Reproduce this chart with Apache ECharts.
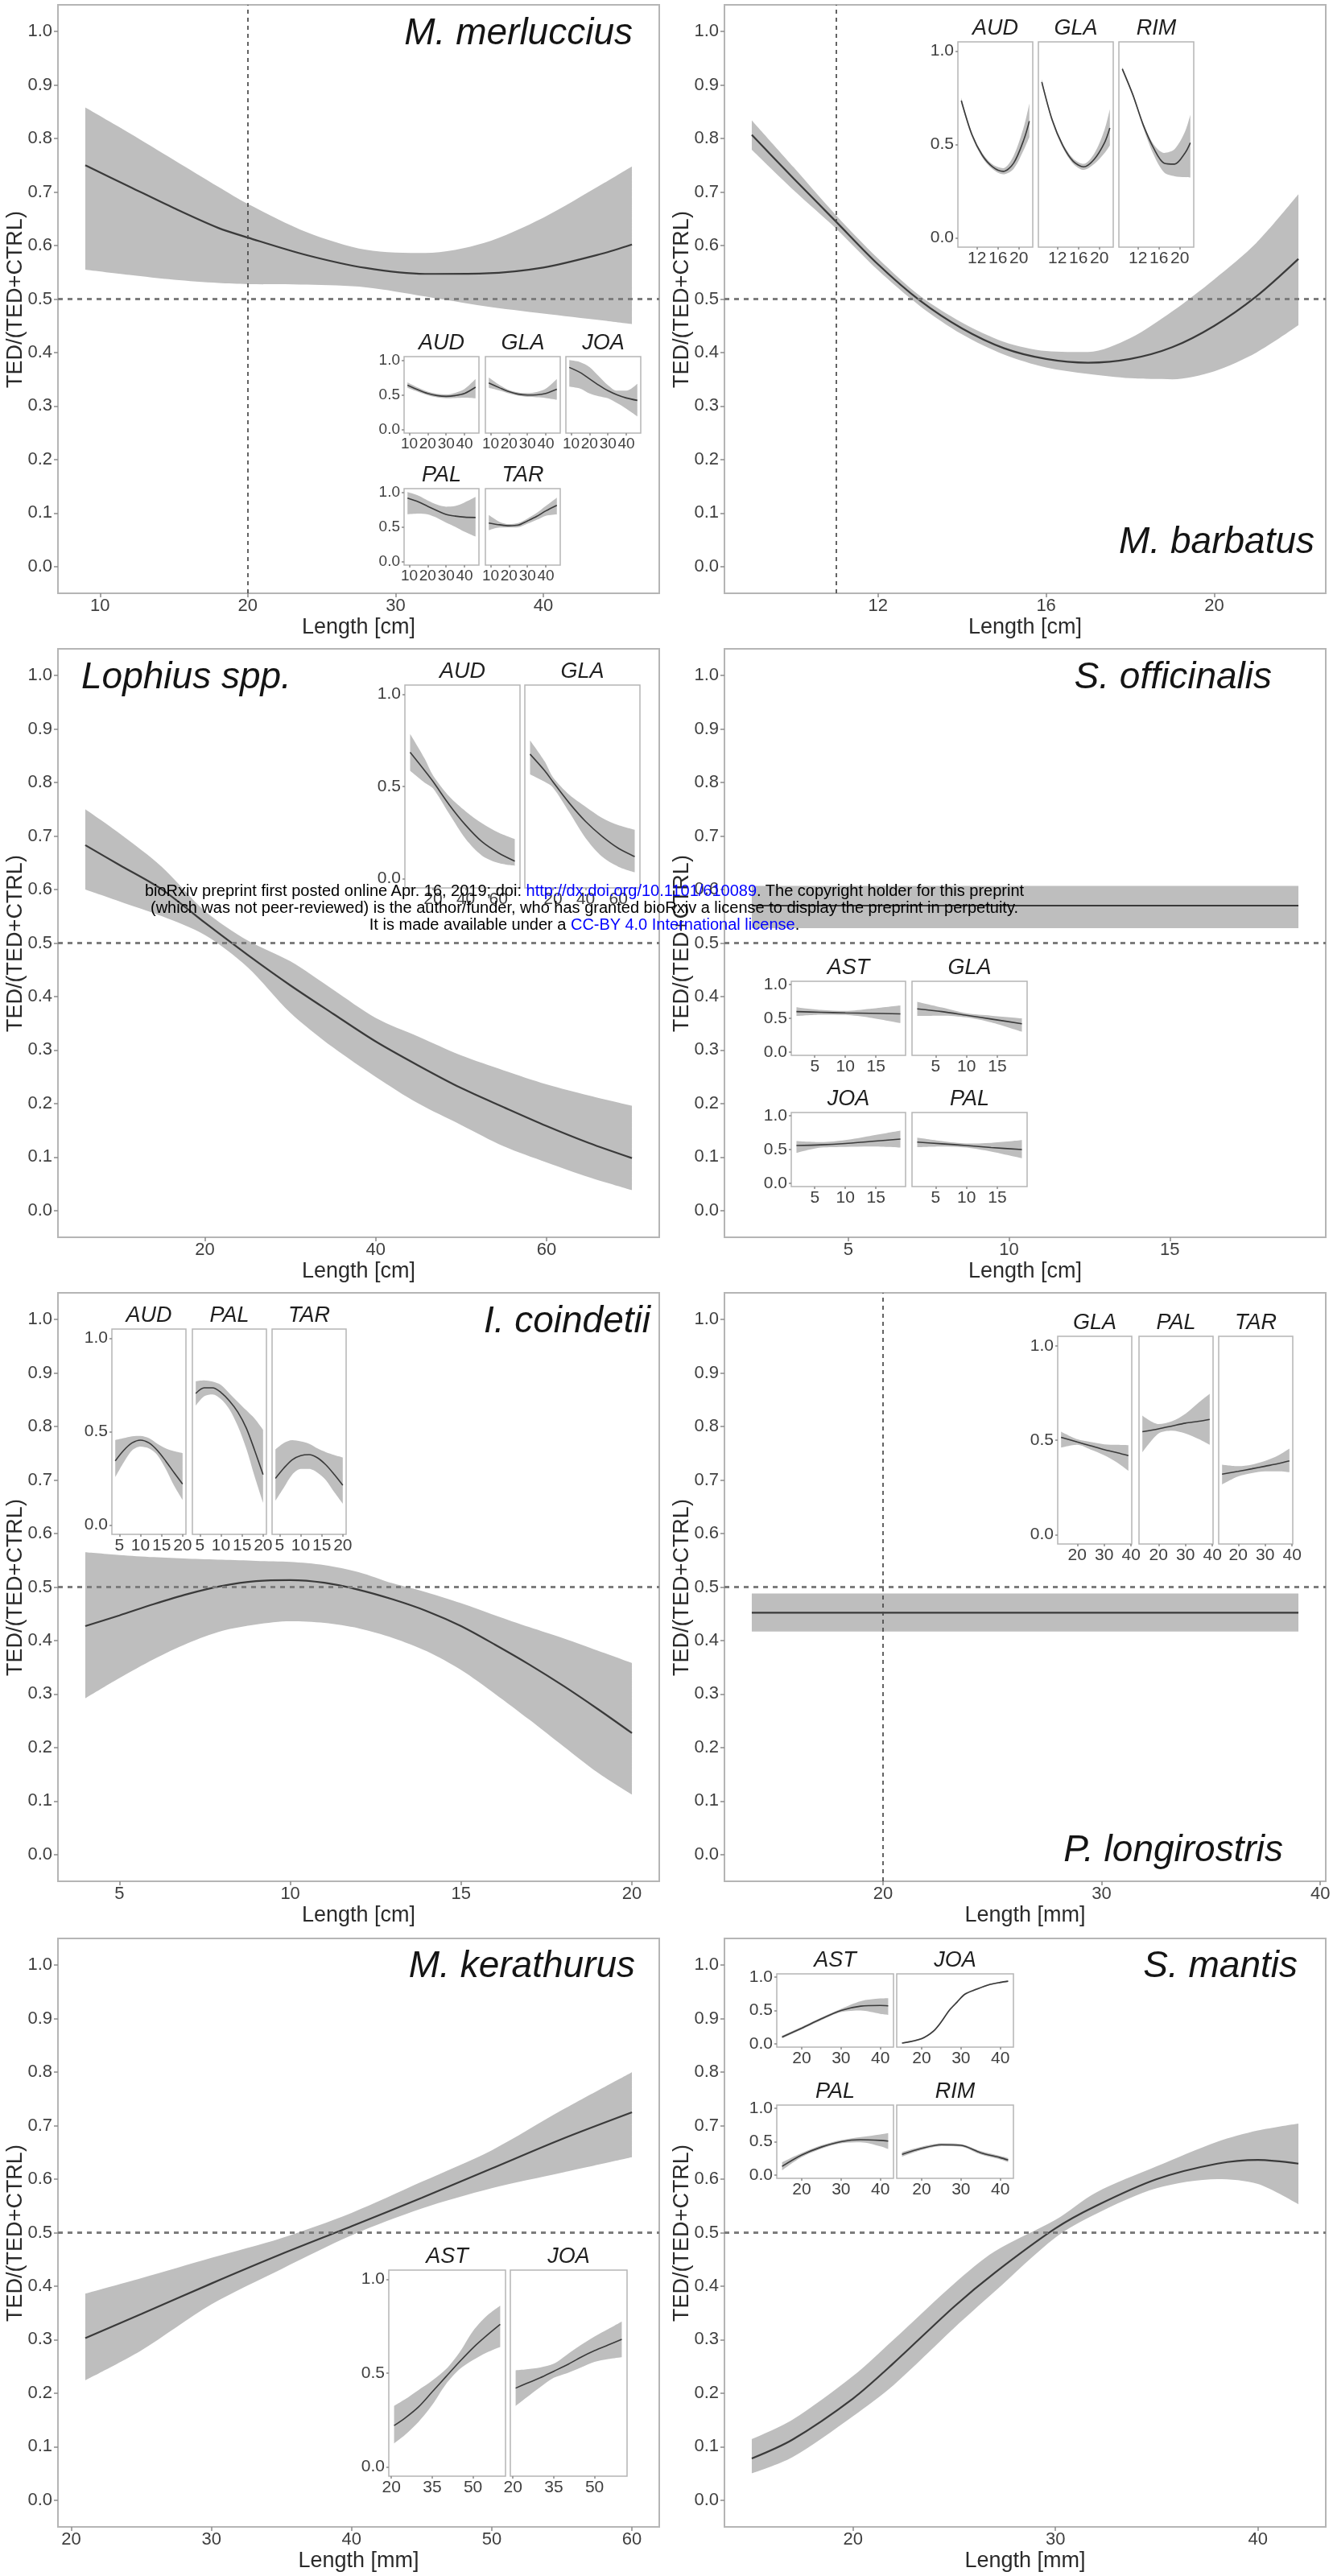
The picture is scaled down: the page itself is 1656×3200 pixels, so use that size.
<!DOCTYPE html>
<html>
<head>
<meta charset="utf-8">
<title>TED/(TED+CTRL) by length</title>
<script src="https://cdn.jsdelivr.net/npm/echarts@6.0.0/dist/echarts.min.js"></script>
<style>
  html, body { margin: 0; padding: 0; background: #fff; }
  #chart { width: 1656px; height: 3200px; }
  .stamp {
    position: absolute; left: 0; width: 1452px; top: 1096px;
    text-align: center; color: #000;
    font: 20px/21px "Liberation Sans", Arial, sans-serif;
  }
  .stamp span { color: #0000ff; }
</style>
</head>
<body>
<div id="chart"></div>
<div class="stamp">
  bioRxiv preprint first posted online Apr. 16, 2019; doi: <span>http://dx.doi.org/10.1101/610089</span>. The copyright holder for this preprint<br>
  (which was not peer-reviewed) is the author/funder, who has granted bioRxiv a license to display the preprint in perpetuity.<br>
  It is made available under a <span>CC-BY 4.0 International license</span>.
</div>
<script>
// ---------- data ----------
// M. merluccius, length in cm
const merX   = [9, 12, 15, 18, 20, 24, 28, 32, 36, 40, 44, 46];
const merFit = [0.750, 0.710, 0.670, 0.633, 0.615, 0.582, 0.558, 0.547, 0.548, 0.559, 0.585, 0.602];
const merUp  = [0.858, 0.810, 0.760, 0.710, 0.678, 0.625, 0.592, 0.586, 0.605, 0.652, 0.715, 0.748];
const merLo  = [0.555, 0.545, 0.536, 0.530, 0.528, 0.527, 0.522, 0.505, 0.487, 0.473, 0.460, 0.453];
const merInX = [9, 15, 20, 25, 30, 35, 40, 46];
const merAUDFit = [0.64, 0.57, 0.52, 0.49, 0.478, 0.49, 0.52, 0.61];
const merAUDUp  = [0.68, 0.60, 0.545, 0.515, 0.505, 0.53, 0.585, 0.73];
const merAUDLo  = [0.60, 0.54, 0.495, 0.465, 0.452, 0.455, 0.46, 0.45];
const merGLAFit = [0.67, 0.60, 0.545, 0.51, 0.497, 0.50, 0.52, 0.58];
const merGLAUp  = [0.75, 0.64, 0.57, 0.535, 0.525, 0.54, 0.59, 0.73];
const merGLALo  = [0.60, 0.56, 0.52, 0.487, 0.47, 0.465, 0.455, 0.43];
const merJOAFit = [0.895, 0.82, 0.73, 0.64, 0.56, 0.50, 0.455, 0.42];
const merJOAUp  = [1.0, 0.97, 0.90, 0.77, 0.64, 0.56, 0.56, 0.66];
const merJOALo  = [0.62, 0.59, 0.52, 0.48, 0.45, 0.38, 0.30, 0.19];
const merPALFit = [0.915, 0.86, 0.795, 0.735, 0.68, 0.655, 0.64, 0.635];
const merPALUp  = [1.0, 0.95, 0.88, 0.82, 0.79, 0.80, 0.85, 0.93];
const merPALLo  = [0.68, 0.69, 0.68, 0.63, 0.56, 0.50, 0.43, 0.36];
const merTARFit = [0.556, 0.53, 0.516, 0.525, 0.585, 0.65, 0.73, 0.81];
const merTARUp  = [0.67, 0.57, 0.54, 0.555, 0.62, 0.70, 0.80, 0.92];
const merTARLo  = [0.45, 0.49, 0.49, 0.495, 0.545, 0.60, 0.66, 0.68];

// M. barbatus, cm
const barX   = [9, 10, 11, 12, 13, 14, 15, 16, 17, 18, 19, 20, 21, 22];
const barFit = [0.807, 0.725, 0.645, 0.565, 0.497, 0.445, 0.408, 0.388, 0.381, 0.388, 0.41, 0.45, 0.505, 0.575];
const barUp  = [0.834, 0.746, 0.657, 0.576, 0.506, 0.456, 0.42, 0.403, 0.401, 0.427, 0.477, 0.537, 0.605, 0.696];
const barLo  = [0.779, 0.703, 0.632, 0.554, 0.487, 0.434, 0.396, 0.372, 0.36, 0.352, 0.35, 0.365, 0.40, 0.451];
const barInX = [9, 11, 13, 15, 17, 19, 21, 22];
const barAUDFit = [0.735, 0.555, 0.443, 0.38, 0.356, 0.40, 0.53, 0.625];
const barAUDUp  = [0.75, 0.567, 0.455, 0.393, 0.373, 0.44, 0.60, 0.72];
const barAUDLo  = [0.72, 0.543, 0.431, 0.367, 0.34, 0.37, 0.475, 0.54];
const barGLAFit = [0.835, 0.63, 0.495, 0.41, 0.38, 0.42, 0.51, 0.588];
const barGLAUp  = [0.85, 0.642, 0.507, 0.425, 0.396, 0.45, 0.58, 0.69];
const barGLALo  = [0.82, 0.618, 0.483, 0.397, 0.364, 0.395, 0.455, 0.495];
const barRIMFit = [0.905, 0.768, 0.605, 0.48, 0.40, 0.395, 0.455, 0.509];
const barRIMUp  = [0.915, 0.778, 0.615, 0.50, 0.455, 0.475, 0.57, 0.66];
const barRIMLo  = [0.895, 0.758, 0.59, 0.445, 0.35, 0.33, 0.325, 0.323];

// Lophius spp., cm
const lopX   = [6, 10, 15, 20, 25, 30, 35, 40, 45, 50, 55, 60, 65, 70];
const lopFit = [0.683, 0.646, 0.600, 0.538, 0.478, 0.421, 0.368, 0.316, 0.271, 0.229, 0.193, 0.158, 0.126, 0.098];
const lopUp  = [0.750, 0.705, 0.642, 0.560, 0.505, 0.466, 0.413, 0.360, 0.325, 0.290, 0.262, 0.236, 0.215, 0.196];
const lopLo  = [0.600, 0.578, 0.550, 0.515, 0.455, 0.370, 0.305, 0.250, 0.200, 0.160, 0.120, 0.090, 0.062, 0.038];
const lopInX = [6, 15, 20, 30, 40, 50, 60, 70];
const lopAUDFit = [0.685, 0.585, 0.527, 0.40, 0.29, 0.20, 0.14, 0.095];
const lopAUDUp  = [0.785, 0.65, 0.56, 0.445, 0.365, 0.30, 0.25, 0.215];
const lopAUDLo  = [0.585, 0.52, 0.49, 0.35, 0.215, 0.125, 0.085, 0.07];
const lopGLAFit = [0.675, 0.585, 0.525, 0.41, 0.31, 0.23, 0.165, 0.12];
const lopGLAUp  = [0.75, 0.635, 0.55, 0.455, 0.39, 0.33, 0.29, 0.265];
const lopGLALo  = [0.565, 0.525, 0.495, 0.36, 0.22, 0.12, 0.065, 0.035];

// S. officinalis, cm
const offX   = [2, 19];
const offFit = [0.570, 0.570];
const offUp  = [0.607, 0.607];
const offLo  = [0.528, 0.528];
const offInX = [2, 6, 10, 14, 19];
const offASTFit = [0.60, 0.59, 0.58, 0.575, 0.565];
const offASTUp  = [0.665, 0.625, 0.61, 0.64, 0.69];
const offASTLo  = [0.535, 0.555, 0.55, 0.51, 0.43];
const offGLAFit = [0.64, 0.60, 0.545, 0.49, 0.42];
const offGLAUp  = [0.745, 0.66, 0.575, 0.54, 0.50];
const offGLALo  = [0.535, 0.54, 0.515, 0.44, 0.30];
const offJOAFit = [0.56, 0.57, 0.59, 0.62, 0.655];
const offJOAUp  = [0.625, 0.61, 0.64, 0.70, 0.78];
const offJOALo  = [0.45, 0.53, 0.54, 0.545, 0.53];
const offPALFit = [0.61, 0.585, 0.56, 0.53, 0.50];
const offPALUp  = [0.675, 0.625, 0.59, 0.60, 0.64];
const offPALLo  = [0.535, 0.545, 0.53, 0.47, 0.37];

// I. coindetii, cm
const coiX   = [4, 5, 6, 7, 8, 9, 10, 11, 12, 13, 14, 15, 16, 17, 18, 19, 20];
const coiFit = [0.427, 0.447, 0.468, 0.487, 0.502, 0.511, 0.513, 0.508, 0.495, 0.477, 0.455, 0.427, 0.392, 0.355, 0.315, 0.272, 0.227];
const coiUp  = [0.565, 0.560, 0.556, 0.553, 0.551, 0.549, 0.547, 0.541, 0.528, 0.507, 0.490, 0.470, 0.447, 0.425, 0.404, 0.381, 0.358];
const coiLo  = [0.292, 0.330, 0.365, 0.395, 0.418, 0.430, 0.436, 0.433, 0.423, 0.405, 0.380, 0.345, 0.300, 0.252, 0.202, 0.153, 0.112];
const coiInX = [4, 6, 8, 10, 12, 14, 16, 18, 20];
const coiAUDFit = [0.344, 0.40, 0.44, 0.455, 0.44, 0.40, 0.343, 0.28, 0.22];
const coiAUDUp  = [0.455, 0.465, 0.475, 0.477, 0.465, 0.435, 0.41, 0.395, 0.385];
const coiAUDLo  = [0.256, 0.335, 0.40, 0.42, 0.41, 0.375, 0.30, 0.21, 0.135];
const coiPALFit = [0.705, 0.735, 0.735, 0.71, 0.665, 0.605, 0.52, 0.40, 0.27];
const coiPALUp  = [0.77, 0.775, 0.768, 0.75, 0.705, 0.66, 0.615, 0.57, 0.51];
const coiPALLo  = [0.64, 0.69, 0.70, 0.675, 0.62, 0.53, 0.41, 0.26, 0.12];
const coiTARFit = [0.25, 0.305, 0.35, 0.372, 0.377, 0.36, 0.322, 0.27, 0.213];
const coiTARUp  = [0.405, 0.44, 0.455, 0.448, 0.435, 0.41, 0.39, 0.375, 0.362];
const coiTARLo  = [0.13, 0.20, 0.27, 0.30, 0.30, 0.28, 0.24, 0.175, 0.114];

// P. longirostris, mm
const lonX   = [14, 39];
const lonFit = [0.452, 0.452];
const lonUp  = [0.488, 0.488];
const lonLo  = [0.417, 0.417];
const lonInX = [14, 20, 25, 30, 35, 39];
const lonGLAFit = [0.515, 0.49, 0.47, 0.45, 0.433, 0.418];
const lonGLAUp  = [0.545, 0.505, 0.49, 0.478, 0.475, 0.473];
const lonGLALo  = [0.46, 0.475, 0.45, 0.42, 0.38, 0.338];
const lonPALFit = [0.545, 0.56, 0.575, 0.59, 0.60, 0.61];
const lonPALUp  = [0.63, 0.585, 0.60, 0.64, 0.70, 0.745];
const lonPALLo  = [0.435, 0.535, 0.55, 0.535, 0.505, 0.475];
const lonTARFit = [0.32, 0.335, 0.348, 0.362, 0.376, 0.39];
const lonTARUp  = [0.37, 0.362, 0.37, 0.39, 0.42, 0.455];
const lonTARLo  = [0.265, 0.308, 0.325, 0.335, 0.335, 0.33];

// M. kerathurus, mm
const kerX   = [21, 25, 30, 35, 40, 45, 50, 55, 60];
const kerFit = [0.303, 0.348, 0.405, 0.46, 0.512, 0.565, 0.62, 0.675, 0.725];
const kerUp  = [0.386, 0.415, 0.453, 0.49, 0.537, 0.595, 0.654, 0.729, 0.80];
const kerLo  = [0.224, 0.28, 0.366, 0.432, 0.495, 0.545, 0.583, 0.612, 0.641];
const kerInX = [21, 25, 30, 35, 40, 45, 50, 55, 60];
const kerASTFit = [0.22, 0.26, 0.32, 0.40, 0.48, 0.56, 0.635, 0.70, 0.76];
const kerASTUp  = [0.325, 0.36, 0.41, 0.46, 0.52, 0.61, 0.725, 0.805, 0.86];
const kerASTLo  = [0.125, 0.17, 0.24, 0.33, 0.44, 0.52, 0.57, 0.61, 0.64];
const kerJOAFit = [0.42, 0.445, 0.475, 0.51, 0.545, 0.585, 0.62, 0.65, 0.68];
const kerJOAUp  = [0.515, 0.52, 0.53, 0.55, 0.60, 0.65, 0.695, 0.735, 0.775];
const kerJOALo  = [0.325, 0.37, 0.425, 0.475, 0.50, 0.53, 0.56, 0.575, 0.585];

// S. mantis, mm
const manX   = [15, 17, 20, 22, 25, 27, 30, 32, 35, 38, 40, 42];
const manFit = [0.078, 0.113, 0.19, 0.256, 0.362, 0.425, 0.508, 0.55, 0.60, 0.629, 0.636, 0.629];
const manUp  = [0.114, 0.15, 0.232, 0.30, 0.405, 0.465, 0.524, 0.575, 0.624, 0.67, 0.691, 0.704];
const manLo  = [0.05, 0.08, 0.157, 0.215, 0.322, 0.39, 0.491, 0.535, 0.583, 0.60, 0.591, 0.553];
const manInX = [15, 20, 25, 30, 35, 40, 42];
const manASTFit = [0.10, 0.235, 0.375, 0.50, 0.565, 0.575, 0.57];
const manASTUp  = [0.12, 0.255, 0.395, 0.525, 0.64, 0.68, 0.685];
const manASTLo  = [0.08, 0.215, 0.355, 0.475, 0.50, 0.45, 0.435];
const manJOAX   = [15, 20, 23, 25, 27, 29, 31, 34, 37, 40, 42];
const manJOAFit = [0.01, 0.078, 0.19, 0.33, 0.50, 0.625, 0.745, 0.82, 0.885, 0.922, 0.94];
const manJOAUp  = [0.02, 0.09, 0.205, 0.345, 0.515, 0.64, 0.757, 0.832, 0.895, 0.932, 0.95];
const manJOALo  = [0.0, 0.066, 0.175, 0.315, 0.485, 0.61, 0.733, 0.808, 0.875, 0.912, 0.93];
const manPALFit = [0.13, 0.30, 0.42, 0.50, 0.53, 0.52, 0.51];
const manPALUp  = [0.19, 0.33, 0.445, 0.525, 0.57, 0.61, 0.63];
const manPALLo  = [0.07, 0.27, 0.395, 0.475, 0.49, 0.43, 0.39];
const manRIMFit = [0.31, 0.40, 0.455, 0.445, 0.335, 0.26, 0.225];
const manRIMUp  = [0.345, 0.425, 0.475, 0.465, 0.36, 0.285, 0.255];
const manRIMLo  = [0.275, 0.375, 0.435, 0.425, 0.31, 0.235, 0.195];

// tick labels
const yTicks = [0, 0.1, 0.2, 0.3, 0.4, 0.5, 0.6, 0.7, 0.8, 0.9, 1.0];
const yInsetTicks = [0, 0.5, 1.0];

// ---------- layout / styling ----------
const FONT = '"Liberation Sans", Arial, Helvetica, sans-serif';
const BAND = '#bebebe';
const FIT = '#3a3a3a';
const FRAME = '#b5b5b5';
const TICK_TXT = '#3f3f3f';
const COL_LEFT = [72, 900];
const ROW_TOP = [6, 806, 1606, 2408];
const FW = 747, FH = 731;

const option = {
  animation: false,
  backgroundColor: '#fff',
  grid: [], xAxis: [], yAxis: [], series: [], graphic: []
};

function addAxes(rect, xr, xticks, s) {
  const gi = option.grid.length;
  option.grid.push({
    left: rect[0], top: rect[1], width: rect[2], height: rect[3],
    show: true, backgroundColor: '#fff', borderColor: FRAME, borderWidth: s.border,
    containLabel: false, outerBoundsMode: 'none', z: s.z
  });
  option.xAxis.push({
    type: 'value', gridIndex: gi, min: xr[0], max: xr[1], z: s.z,
    axisLine: { show: false, onZero: false }, splitLine: { show: false },
    axisTick: { show: true, length: s.tick, customValues: xticks, lineStyle: { color: '#8a8a8a', width: 1.5 } },
    axisLabel: { customValues: xticks, fontSize: s.fs, color: TICK_TXT, fontFamily: FONT, margin: s.xMargin }
  });
  option.yAxis.push({
    type: 'value', gridIndex: gi, min: -0.05, max: 1.05, z: s.z,
    axisLine: { show: false, onZero: false }, splitLine: { show: false },
    axisTick: { show: s.yLabels, length: s.tick, customValues: s.yticks, lineStyle: { color: '#8a8a8a', width: 1.5 } },
    axisLabel: {
      show: s.yLabels, customValues: s.yticks, fontSize: s.fs, color: TICK_TXT, fontFamily: FONT,
      margin: s.margin, formatter: v => v.toFixed(1)
    }
  });
  return gi;
}

// band = invisible lower line + stacked (upper - lower) area, then the fitted line.
// Rows are [y, x] with encode so that the stacked dimension is y.
function addCurve(gi, xs, fit, up, lo, s, vline) {
  const key = 'band' + gi;
  const common = {
    type: 'line', xAxisIndex: gi, yAxisIndex: gi, symbol: 'none', smooth: 0.3,
    silent: true, z: s.z + 1, encode: { x: 1, y: 0 }
  };
  option.series.push(Object.assign({}, common, {
    data: xs.map((x, i) => [lo[i], x]), stack: key, lineStyle: { opacity: 0 }
  }));
  option.series.push(Object.assign({}, common, {
    data: xs.map((x, i) => [+(up[i] - lo[i]).toFixed(4), x]), stack: key,
    lineStyle: { opacity: 0 }, areaStyle: { color: BAND, opacity: 1 }
  }));
  const refs = [{ yAxis: 0.5, lineStyle: s.hRef }];
  if (vline != null) refs.push({ xAxis: vline, lineStyle: s.vRef });
  option.series.push(Object.assign({}, common, {
    data: xs.map((x, i) => [fit[i], x]), z: s.z + 2,
    lineStyle: { color: FIT, width: s.lw },
    markLine: { symbol: ['none', 'none'], silent: true, animation: false, label: { show: false }, data: refs }
  }));
}

function text(x, y, str, size, o) {
  o = o || {};
  const align = o.align || 'center';
  option.graphic.push({
    type: 'text', x: x, y: y, rotation: o.rot || 0, silent: true, z: 200,
    style: {
      text: str, fill: o.color || '#222',
      font: (o.italic ? 'italic ' : '') + size + 'px ' + FONT,
      align: align, textAlign: align, verticalAlign: 'middle', textVerticalAlign: 'middle'
    }
  });
}

const MAIN = {
  border: 2, tick: 5, fs: 22, margin: 7, xMargin: 5, yLabels: true, yticks: yTicks, z: 0, lw: 2.2,
  hRef: { color: '#7c7c7c', width: 3, type: [6, 6] },
  vRef: { color: '#4a4a4a', width: 1.7, type: [5, 5] }
};

function mainPanel(col, row, xr, xticks, xs, fit, up, lo, vline, xname, species) {
  const left = COL_LEFT[col], top = ROW_TOP[row];
  const gi = addAxes([left, top, FW, FH], xr, xticks, MAIN);
  addCurve(gi, xs, fit, up, lo, MAIN, vline);
  text(left + FW / 2, top + 774, xname, 27, { color: '#2a2a2a' });
  text(left - 52, top + 366, 'TED/(TED+CTRL)', 27, { rot: Math.PI / 2, color: '#2a2a2a' });
  text(species.x, species.y, species.name, 46, { italic: true, align: species.align, color: '#141414' });
}

function inset(rect, xr, xticks, xs, fit, up, lo, title, vline, yLabels, fs) {
  const s = {
    border: 1.5, tick: 3, fs: fs || 21, margin: 5, xMargin: 4, yLabels: yLabels, yticks: yInsetTicks, z: 10, lw: 1.6,
    hRef: { color: '#707070', width: 2.4, type: [4, 4] },
    vRef: { color: '#4a4a4a', width: 1.5, type: [3, 4] }
  };
  const gi = addAxes(rect, xr, xticks, s);
  addCurve(gi, xs, fit, up, lo, s, vline);
  text(rect[0] + rect[2] / 2, rect[1] - 17, title, 27, { italic: true, color: '#1e1e1e' });
}

// ---------- panels ----------
// M. merluccius
const merR = [7.15, 47.85], merT = [10, 20, 30, 40];
mainPanel(0, 0, merR, merT, merX, merFit, merUp, merLo, 20, 'Length [cm]',
  { name: 'M. merluccius', x: 786, y: 42, align: 'right' });
inset([502, 443, 93, 95], merR, merT, merInX, merAUDFit, merAUDUp, merAUDLo, 'AUD', 20, true, 19);
inset([603, 443, 93, 95], merR, merT, merInX, merGLAFit, merGLAUp, merGLALo, 'GLA', 20, false, 19);
inset([703, 443, 93, 95], merR, merT, merInX, merJOAFit, merJOAUp, merJOALo, 'JOA', 20, false, 19);
inset([502, 607, 93, 95], merR, merT, merInX, merPALFit, merPALUp, merPALLo, 'PAL', 20, true, 19);
inset([603, 607, 93, 95], merR, merT, merInX, merTARFit, merTARUp, merTARLo, 'TAR', 20, false, 19);

// M. barbatus
const barR = [8.35, 22.65], barT = [12, 16, 20];
mainPanel(1, 0, barR, barT, barX, barFit, barUp, barLo, 11, 'Length [cm]',
  { name: 'M. barbatus', x: 1633, y: 674, align: 'right' });
inset([1190, 52, 93, 255], barR, barT, barInX, barAUDFit, barAUDUp, barAUDLo, 'AUD', 11, true, 21);
inset([1290, 52, 93, 255], barR, barT, barInX, barGLAFit, barGLAUp, barGLALo, 'GLA', 11, false, 21);
inset([1390, 52, 93, 255], barR, barT, barInX, barRIMFit, barRIMUp, barRIMLo, 'RIM', 11, false, 21);

// Lophius spp.
const lopR = [2.8, 73.2], lopT = [20, 40, 60];
mainPanel(0, 1, lopR, lopT, lopX, lopFit, lopUp, lopLo, null, 'Length [cm]',
  { name: 'Lophius spp.', x: 101, y: 842, align: 'left' });
inset([503, 851, 143, 252], lopR, lopT, lopInX, lopAUDFit, lopAUDUp, lopAUDLo, 'AUD', null, true);
inset([652, 851, 143, 252], lopR, lopT, lopInX, lopGLAFit, lopGLAUp, lopGLALo, 'GLA', null, false);

// S. officinalis
const offR = [1.15, 19.85], offT = [5, 10, 15];
mainPanel(1, 1, offR, offT, offX, offFit, offUp, offLo, null, 'Length [cm]',
  { name: 'S. officinalis', x: 1580, y: 842, align: 'right' });
inset([983, 1219, 142, 92], offR, offT, offInX, offASTFit, offASTUp, offASTLo, 'AST', null, true);
inset([1133, 1219, 143, 92], offR, offT, offInX, offGLAFit, offGLAUp, offGLALo, 'GLA', null, false);
inset([983, 1382, 142, 92], offR, offT, offInX, offJOAFit, offJOAUp, offJOALo, 'JOA', null, true);
inset([1133, 1382, 143, 92], offR, offT, offInX, offPALFit, offPALUp, offPALLo, 'PAL', null, false);

// I. coindetii
const coiR = [3.2, 20.8], coiT = [5, 10, 15, 20];
mainPanel(0, 2, coiR, coiT, coiX, coiFit, coiUp, coiLo, null, 'Length [cm]',
  { name: 'I. coindetii', x: 808, y: 1642, align: 'right' });
inset([139, 1651, 92, 255], coiR, coiT, coiInX, coiAUDFit, coiAUDUp, coiAUDLo, 'AUD', null, true);
inset([239, 1651, 92, 255], coiR, coiT, coiInX, coiPALFit, coiPALUp, coiPALLo, 'PAL', null, false);
inset([338, 1651, 92, 255], coiR, coiT, coiInX, coiTARFit, coiTARUp, coiTARLo, 'TAR', null, false);

// P. longirostris
const lonR = [12.75, 40.25], lonT = [20, 30, 40];
mainPanel(1, 2, lonR, lonT, lonX, lonFit, lonUp, lonLo, 20, 'Length [mm]',
  { name: 'P. longirostris', x: 1594, y: 2299, align: 'right' });
inset([1314, 1660, 92, 258], lonR, lonT, lonInX, lonGLAFit, lonGLAUp, lonGLALo, 'GLA', 20, true);
inset([1415, 1660, 92, 258], lonR, lonT, lonInX, lonPALFit, lonPALUp, lonPALLo, 'PAL', 20, false);
inset([1514, 1660, 92, 258], lonR, lonT, lonInX, lonTARFit, lonTARUp, lonTARLo, 'TAR', 20, false);

// M. kerathurus
const kerR = [19.05, 61.95], kerT = [20, 30, 40, 50, 60], kerInT = [20, 35, 50];
mainPanel(0, 3, kerR, kerT, kerX, kerFit, kerUp, kerLo, null, 'Length [mm]',
  { name: 'M. kerathurus', x: 789, y: 2443, align: 'right' });
inset([483, 2820, 145, 256], kerR, kerInT, kerInX, kerASTFit, kerASTUp, kerASTLo, 'AST', null, true);
inset([634, 2820, 145, 256], kerR, kerInT, kerInX, kerJOAFit, kerJOAUp, kerJOALo, 'JOA', null, false);

// S. mantis
const manR = [13.65, 43.35], manT = [20, 30, 40];
mainPanel(1, 3, manR, manT, manX, manFit, manUp, manLo, null, 'Length [mm]',
  { name: 'S. mantis', x: 1612, y: 2443, align: 'right' });
inset([965, 2452, 145, 91], manR, manT, manInX, manASTFit, manASTUp, manASTLo, 'AST', null, true);
inset([1114, 2452, 145, 91], manR, manT, manJOAX, manJOAFit, manJOAUp, manJOALo, 'JOA', null, false);
inset([965, 2615, 145, 91], manR, manT, manInX, manPALFit, manPALUp, manPALLo, 'PAL', null, true);
inset([1114, 2615, 145, 91], manR, manT, manInX, manRIMFit, manRIMUp, manRIMLo, 'RIM', null, false);

const chart = echarts.init(document.getElementById('chart'), null, { renderer: 'canvas' });
chart.setOption(option);
</script>
</body>
</html>
